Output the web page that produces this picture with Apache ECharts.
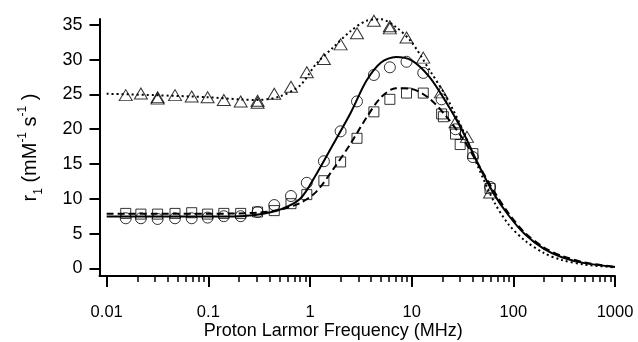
<!DOCTYPE html>
<html><head><meta charset="utf-8">
<script src="https://cdn.jsdelivr.net/npm/echarts@6/dist/echarts.min.js"></script>
<style>html,body{margin:0;padding:0;background:#fff}#c{width:638px;height:342px}</style>
</head><body><div id="c"></div>
<script>
// Measured data (MHz, r1 in mM^-1 s^-1)
const triF = [0.0154,0.0217,0.0317,0.0317,0.047,0.0686,0.0984,0.142,0.208,0.305,0.305,0.445,0.65,0.93,1.37,2.0,2.9,4.25,6.1,6.1,8.9,13.0,19.4,27,35,59];
const triR = [24.9,25.15,24.6,24.4,24.9,24.7,24.6,24.2,24.0,24.1,23.8,25.1,26.1,28.2,30.1,32.2,33.8,35.6,34.5,34.8,33.2,30.3,25.3,21.0,18.9,10.9];
const cirF = [0.0154,0.0217,0.0317,0.047,0.0686,0.0984,0.142,0.208,0.305,0.445,0.65,0.93,1.37,2.0,2.9,4.25,6.1,8.9,13.0,19.7,27,40,59];
const cirR = [7.2,7.2,7.1,7.2,7.2,7.3,7.5,7.5,8.1,9.1,10.4,12.3,15.4,19.7,24.0,27.8,28.9,29.7,28.1,24.3,20.0,16.0,11.7];
const sqF = [0.0154,0.0217,0.0317,0.047,0.0686,0.0984,0.142,0.208,0.305,0.445,0.65,0.93,1.37,2.0,2.9,4.25,6.1,8.9,13.0,19.7,20.5,27,30,40,59];
const sqR = [7.9,7.8,7.8,7.9,8.0,7.8,7.9,7.9,8.1,8.3,9.3,10.6,12.6,15.3,18.7,22.5,24.3,25.2,25.2,22.2,21.8,19.3,17.8,16.5,11.5];
// Fitted curves
const fitF   = [0.01,0.03,0.1,0.2,0.3,0.5,0.8,1.15,1.7,2.5,3.6,5,7,10,15,22,32,45,65,90,130,200,300,500,1000];
const fitTri = [25.1,24.9,24.6,24.3,24.2,24.7,26.3,29.4,31.8,34.1,35.6,35.8,34.7,32.5,28.5,24.6,19.8,14.6,9.5,6.3,4.0,2.2,1.2,0.55,0.15];
const fitCir = [7.45,7.45,7.45,7.5,7.7,8.4,10.0,13.5,17.9,22.3,27.0,29.6,30.4,29.9,27.5,23.8,19.6,15.0,10.6,7.6,4.9,2.8,1.6,0.75,0.2];
const fitSq  = [7.85,7.85,7.85,7.9,8.0,8.4,9.4,11.0,14.3,17.9,21.7,24.6,25.9,25.8,24.4,21.8,18.6,15.0,11.0,7.9,5.1,3.0,1.8,0.85,0.22];
const yTicks = [0,5,10,15,20,25,30,35];
const xMajor = [0.01,0.1,1,10,100,1000];
const xMinor = [];
for (let d = 0.01; d < 1000; d *= 10) for (let k = 2; k <= 9; k++) xMinor.push(+(k*d).toPrecision(3));

const pair = (xs, ys) => xs.map((x, i) => [x, ys[i]]);
const FONT = 'Liberation Sans, Arial, sans-serif';
const chart = echarts.init(document.getElementById('c'), null, {renderer: 'canvas'});
const open = {color: 'rgba(0,0,0,0)', borderColor: '#000', borderWidth: 1};
const xCommon = {type: 'log', logBase: 10, min: 0.0085, max: 1000, position: 'bottom', splitLine: {show: false}};
chart.setOption({
  animation: false,
  backgroundColor: '#fff',
  grid: {left: 99.5, right: 23, top: 19, bottom: 66, containLabel: false, outerBoundsMode: 'none'},
  xAxis: [
    Object.assign({}, xCommon, {
      axisLine: {show: true, onZero: false, lineStyle: {color: '#000', width: 2}},
      axisTick: {show: true, customValues: xMajor, length: 11, lineStyle: {color: '#000', width: 2}},
      axisLabel: {customValues: xMajor, formatter: v => String(v), color: '#000', fontSize: 16.5, fontFamily: FONT, margin: 28},
      name: 'Proton Larmor Frequency (MHz)', nameLocation: 'middle', nameGap: 46, nameMoveOverlap: false,
      nameTextStyle: {color: '#000', fontSize: 18, fontFamily: FONT, padding: [0, 48, 0, 0]}
    }),
    Object.assign({}, xCommon, {
      axisLine: {show: false, onZero: false},
      axisTick: {show: true, customValues: xMinor, length: 6, lineStyle: {color: '#000', width: 1.5}},
      axisLabel: {show: false}
    })
  ],
  yAxis: {
    type: 'value', min: -1.1, max: 35.85,
    splitLine: {show: false},
    axisLine: {show: true, onZero: false, lineStyle: {color: '#000', width: 2}},
    axisTick: {show: true, customValues: yTicks, length: 10, lineStyle: {color: '#000', width: 2}},
    axisLabel: {customValues: yTicks, color: '#000', fontSize: 18, fontFamily: FONT, margin: 17},
    name: '{n|r}{sb|1}{n| (mM}{sp|-1}{n| s}{sp|-1}{n| )}',
    nameLocation: 'middle', nameGap: 55, nameMoveOverlap: false,
    nameTextStyle: {
      rich: {
        n: {fontSize: 20, fontFamily: FONT, color: '#000', lineHeight: 28, verticalAlign: 'middle'},
        sb: {fontSize: 12, fontFamily: FONT, color: '#000', verticalAlign: 'bottom'},
        sp: {fontSize: 12, fontFamily: FONT, color: '#000', verticalAlign: 'top'}
      }
    }
  },
  series: [
    {type: 'line', data: pair(fitF, fitTri), smooth: 0.3, showSymbol: false, silent: true,
     lineStyle: {color: '#000', width: 2, type: [2, 3]}},
    {type: 'line', data: pair(fitF, fitCir), smooth: 0.3, showSymbol: false, silent: true,
     lineStyle: {color: '#000', width: 2, type: 'solid'}},
    {type: 'line', data: pair(fitF, fitSq), smooth: 0.3, showSymbol: false, silent: true,
     lineStyle: {color: '#000', width: 2, type: [7, 4]}},
    {type: 'scatter', data: pair(triF, triR), symbol: 'triangle', symbolSize: [13, 11], itemStyle: open, silent: true},
    {type: 'scatter', data: pair(cirF, cirR), symbol: 'circle', symbolSize: 11, itemStyle: open, silent: true},
    {type: 'scatter', data: pair(sqF, sqR), symbol: 'rect', symbolSize: 10, itemStyle: open, silent: true}
  ]
});
</script>
</body></html>
